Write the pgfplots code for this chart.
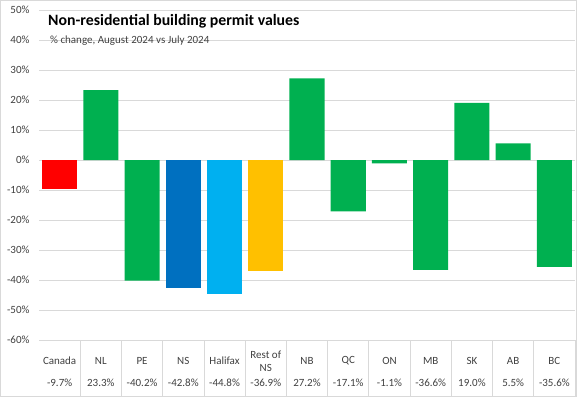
\documentclass[border=0pt]{standalone}
\usepackage{pgfplots}
\pgfplotsset{compat=1.18}
\usepackage{fontspec}
\setmainfont{Carlito}
\definecolor{gridc}{HTML}{D9D9D9}
\definecolor{cred}{HTML}{FF0000}
\definecolor{cgreen}{HTML}{00B050}
\definecolor{cblue}{HTML}{0070C0}
\definecolor{clblue}{HTML}{00B0F0}
\definecolor{cgold}{HTML}{FFC000}
\definecolor{txt}{HTML}{404040}
\begin{document}
\begin{tikzpicture}[x=1pt,y=1pt]
\path[use as bounding box] (0,0) rectangle (577,397);
\draw[gridc, line width=0.8pt] (0.4,0.4) rectangle (576.6,396.6);
\begin{axis}[
  at={(39pt,57pt)}, anchor=south west,
  scale only axis, width=536pt, height=330pt,
  xmin=-0.5, xmax=12.5, ymin=-60, ymax=50,
  axis line style={draw=none},
  major tick length=0pt,
  ytick={-60,-50,...,50},
  yticklabels={-60\%,-50\%,-40\%,-30\%,-20\%,-10\%,0\%,10\%,20\%,30\%,40\%,50\%},
  ymajorgrids, grid style={gridc, line width=0.8pt},
  yticklabel style={font=\fontsize{11}{13}\selectfont, text=txt, xshift=-6pt},
  xtick={0,...,12},
  xticklabels={Canada,NL,PE,NS,Halifax,{Rest of\\NS},NB,QC,ON,MB,SK,AB,BC},
  xticklabel style={font=\fontsize{11}{13}\selectfont, text=txt, anchor=center, align=center, yshift=-21pt},
  extra x ticks={0,...,12},
  extra x tick labels={-9.7\%,23.3\%,-40.2\%,-42.8\%,-44.8\%,-36.9\%,27.2\%,-17.1\%,-1.1\%,-36.6\%,19.0\%,5.5\%,-35.6\%},
  extra x tick style={grid=none, major tick length=0pt, xticklabel style={yshift=-22pt}},
  clip=false,
]
\addplot[ybar, bar shift=0pt, bar width=0.85, fill=cred, draw=none] coordinates {(0,-9.7)};
\addplot[ybar, bar shift=0pt, bar width=0.85, fill=cgreen, draw=none] coordinates {(1,23.3) (2,-40.2) (6,27.2) (7,-17.1) (8,-1.1) (9,-36.6) (10,19.0) (11,5.5) (12,-35.6)};
\addplot[ybar, bar shift=0pt, bar width=0.85, fill=cblue, draw=none] coordinates {(3,-42.8)};
\addplot[ybar, bar shift=0pt, bar width=0.85, fill=clblue, draw=none] coordinates {(4,-44.8)};
\addplot[ybar, bar shift=0pt, bar width=0.85, fill=cgold, draw=none] coordinates {(5,-36.9)};
\pgfplotsinvokeforeach{0.5,1.5,...,12.5}{\draw[gridc, line width=0.8pt] (axis cs:#1,-60) -- ++(0pt,-57pt);}
\end{axis}
\node[anchor=base west, inner sep=0pt, font=\fontsize{15.8}{18}\selectfont\bfseries] at (48,371) {Non-residential building permit values};
\node[anchor=base west, inner sep=0pt, font=\fontsize{11}{13}\selectfont, text=txt] at (50,353) {\% change, August 2024 vs July 2024};
\end{tikzpicture}
\end{document}
